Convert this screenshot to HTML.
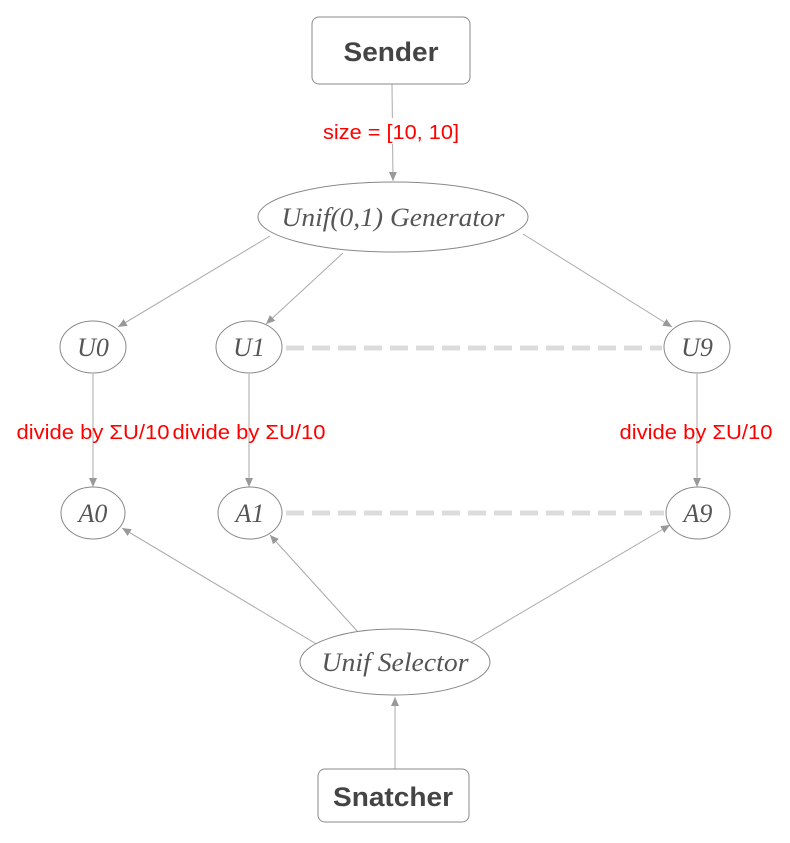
<!DOCTYPE html>
<html><head><meta charset="utf-8"><style>html,body{margin:0;padding:0;background:#fff}</style></head>
<body>
<svg width="790" height="838" viewBox="0 0 790 838" xmlns="http://www.w3.org/2000/svg">
<defs>
<marker id="ar" markerWidth="10" markerHeight="10" refX="9" refY="5" orient="auto" markerUnits="userSpaceOnUse">
<path d="M0,1 L9,5 L0,9 z" fill="#999"/>
</marker>
</defs>
<g stroke="#aaa" stroke-width="1" fill="none" marker-end="url(#ar)">
<line x1="392" y1="84" x2="393" y2="181"/>
<line x1="270" y1="236" x2="118" y2="327"/>
<line x1="343" y1="253" x2="266" y2="324"/>
<line x1="523" y1="234" x2="672" y2="327"/>
<line x1="93" y1="374" x2="93" y2="487"/>
<line x1="249" y1="374" x2="249" y2="487"/>
<line x1="697" y1="374" x2="697" y2="487"/>
<line x1="318" y1="645" x2="122" y2="528"/>
<line x1="358" y1="632" x2="270" y2="535"/>
<line x1="470" y1="643" x2="670" y2="525"/>
<line x1="395" y1="769" x2="395" y2="697"/>
</g>
<g stroke="#dcdcdc" stroke-width="5" stroke-dasharray="18,8">
<line x1="286" y1="348" x2="662" y2="348"/>
<line x1="286" y1="513" x2="664" y2="513"/>
</g>
<g fill="#fff" stroke="#888" stroke-width="1">
<rect x="312" y="17" width="158" height="67" rx="7"/>
<rect x="318" y="769" width="151" height="53" rx="7"/>
<ellipse cx="393" cy="217" rx="135" ry="35"/>
<ellipse cx="93" cy="347" rx="33" ry="26"/>
<ellipse cx="249" cy="347" rx="33" ry="26"/>
<ellipse cx="697" cy="347" rx="33" ry="26"/>
<ellipse cx="93" cy="513" rx="32" ry="26"/>
<ellipse cx="250" cy="513" rx="32" ry="26"/>
<ellipse cx="698" cy="513" rx="32" ry="26"/>
<ellipse cx="395" cy="662" rx="95" ry="33"/>
</g>
<g font-family="Liberation Sans, DejaVu Sans, sans-serif" font-weight="bold" fill="#444" text-anchor="middle" font-size="27">
<text x="391" y="61" textLength="95" lengthAdjust="spacingAndGlyphs">Sender</text>
<text x="393" y="806" textLength="120" lengthAdjust="spacingAndGlyphs">Snatcher</text>
</g>
<g font-family="Liberation Serif, serif" font-style="italic" fill="#555" text-anchor="middle" font-size="26">
<text x="393" y="226" textLength="223" lengthAdjust="spacingAndGlyphs">Unif(0,1) Generator</text>
<text x="93" y="356">U0</text>
<text x="249" y="356">U1</text>
<text x="697" y="356">U9</text>
<text x="93" y="522">A0</text>
<text x="250" y="522">A1</text>
<text x="698" y="522">A9</text>
<text x="395" y="671" textLength="147" lengthAdjust="spacingAndGlyphs">Unif Selector</text>
</g>
<g font-family="Liberation Sans, DejaVu Sans, sans-serif" fill="#ff0000" text-anchor="middle" font-size="20">
<rect x="320" y="118" width="143" height="26" fill="#fff"/>
<text x="391" y="139" textLength="136" lengthAdjust="spacingAndGlyphs">size = [10, 10]</text>
<text x="93" y="439" textLength="153" lengthAdjust="spacingAndGlyphs">divide by ΣU/10</text>
<text x="249" y="439" textLength="153" lengthAdjust="spacingAndGlyphs">divide by ΣU/10</text>
<text x="696" y="439" textLength="153" lengthAdjust="spacingAndGlyphs">divide by ΣU/10</text>
</g>
</svg>
</body></html>
